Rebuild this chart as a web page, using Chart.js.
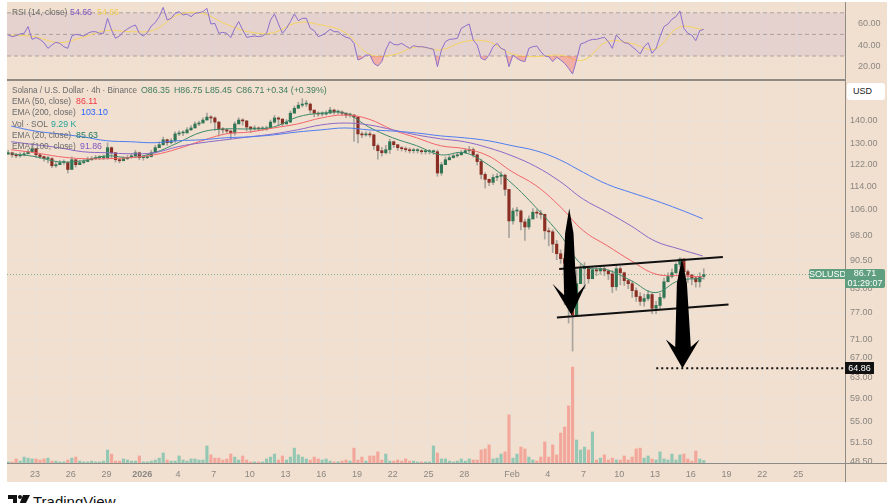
<!DOCTYPE html>
<html>
<head>
<meta charset="utf-8">
<title>SOLUSD 4h</title>
<script src="https://cdn.jsdelivr.net/npm/chart.js@4/dist/chart.umd.min.js"></script>
<style>
    html, body { margin: 0; padding: 0; background: #fff; }
    #page { position: relative; width: 895px; height: 503px; overflow: hidden; background: #fff; font-family: "Liberation Sans", sans-serif; }
    #panel { position: absolute; left: 7px; top: 2px; width: 880px; height: 480px; background: #f1dfcf; }
    canvas { position: absolute; left: 7px; }
    .hline, .vline { position: absolute; background: #8f8a84; }
    .txt { position: absolute; font-size: 8.8px; line-height: 11px; white-space: nowrap; color: #6b6b6b; }
    .ema { font-size: 8.4px; }
    .head { font-size: 8.2px; }
    .tag { position: absolute; text-align: center; color: #fff; font-size: 9px; }
</style>
</head>
<body>
<div id="page">
    <div id="panel"></div>
    <canvas id="rsiChart" width="880" height="77" style="top:2px;width:880px;height:77px"></canvas>
    <canvas id="priceChart" width="880" height="402" style="top:80px;width:880px;height:402px"></canvas>

    <div class="hline" style="left:7px;top:79px;width:838px;height:1.5px"></div>
    <div class="hline" style="left:7px;top:463px;width:880px;height:1px"></div>
    <div class="vline" style="left:845px;top:2px;width:1px;height:480px"></div>

    <div class="txt ema" style="left:12px;top:7px">RSI (14, close)</div>
    <div class="txt" style="left:70px;top:7px;color:#7e57c2">54.66</div>
    <div class="txt" style="left:97px;top:7px;color:#f0cd55">54.66</div>

    <div class="txt head" style="left:12px;top:85px">Solana / U.S. Dollar · 4h · Binance</div>
    <div class="txt" style="left:141px;top:85px;color:#3f7d5f">O86.35</div>
    <div class="txt" style="left:174px;top:85px;color:#3f7d5f">H86.75</div>
    <div class="txt" style="left:205px;top:85px;color:#3f7d5f">L85.45</div>
    <div class="txt" style="left:236px;top:85px;color:#3f7d5f">C86.71</div>
    <div class="txt" style="left:266px;top:85px;color:#3f7d5f">+0.34 (+0.39%)</div>

    <div class="txt ema" style="left:12px;top:96px">EMA (50, close)</div>
    <div class="txt" style="left:76px;top:96px;color:#f23645">86.11</div>
    <div class="txt ema" style="left:12px;top:107px">EMA (200, close)</div>
    <div class="txt" style="left:81px;top:107px;color:#2962ff">103.10</div>
    <div class="txt ema" style="left:12px;top:119px">Vol · SOL</div>
    <div class="txt" style="left:51px;top:119px;color:#26a69a">9.29 K</div>
    <div class="txt ema" style="left:12px;top:130px">EMA (20, close)</div>
    <div class="txt" style="left:76px;top:130px;color:#1f7a63">85.63</div>
    <div class="txt ema" style="left:12px;top:141px">EMA (100, close)</div>
    <div class="txt" style="left:80px;top:141px;color:#7e57c2">91.86</div>

    <div style="position:absolute;left:847px;top:83px;width:38px;height:17px;background:#fff;border-radius:3px"></div>
    <div class="txt" style="left:853px;top:86px;color:#222;font-size:9px">USD</div>

    <div class="tag" style="left:809px;top:269px;width:36px;height:10px;line-height:10px;background:#5f9f80;border-radius:2px 0 0 2px">SOLUSD</div>
    <div class="tag" style="left:845px;top:269px;width:40px;height:19px;line-height:9.5px;background:#5f9f80;border-radius:0 2px 2px 0">86.71<br>01:29:07</div>
    <div class="tag" style="left:845px;top:362px;width:29px;height:12px;line-height:12px;background:#111">64.86</div>

    <svg style="position:absolute;left:8px;top:495px" width="22" height="12" viewBox="0 0 22 12">
        <path d="M0 0h9v10H5V4H0zM15 0h7l-5 10h-6z" fill="#111"/><circle cx="12" cy="2" r="2" fill="#111"/>
    </svg>
    <div style="position:absolute;left:33px;top:493px;font-size:15px;line-height:17px;color:#111">TradingView</div>
</div>

<script>
// x positions are in days since 21 Dec 2025, candles are sampled every 8h
const firstCandleDay = -0.25;
const candleStep = 1 / 3;
const firstOpen = 126;

const closes = [
    126.5,125.7,125.3,125.7,126.1,126.9,128.1,125.7,125,124.2,
    124.2,121.5,121.9,122.7,122.7,120.1,123.8,121.9,122.7,123.1,
    123.8,124.2,124.6,124.6,124.6,128.5,126.5,123.8,123.4,124.2,
    124.6,125.3,126.5,124.6,124.6,125,126.5,128.5,129.7,131.7,
    130.5,131.3,134.1,134.5,134.5,135.8,136.6,138.3,138.7,140,
    141.3,140.9,139.1,136.2,135.8,135.3,134.5,138.3,140,139.6,
    137,136.2,136.6,136.2,136.2,136.6,139.1,140.9,140.4,138.3,
    139.1,143,145.2,146.6,147.1,147.1,144.4,143,142.6,142.6,
    143,144.4,143.5,143.5,143,142.2,142.2,141.3,134.1,133.7,
    134.1,133.7,129.3,127.3,126.5,127.7,130.9,129.7,128.5,128.1,
    127.7,127.3,127.3,127.3,126.9,126.9,126.9,126.9,118.8,121.9,
    123.8,124.6,125.3,125.7,126.5,127.3,127.7,125.7,123.1,118.3,
    116.5,115.4,117.2,117.6,118,112.9,102.4,105.6,105.6,102.1,
    100.5,103,105.2,104.9,104.5,99.3,99,95.3,92.5,91.1,
    89.8,80.5,76.5,84.3,88.3,88.9,85.6,88,87.7,88.3,
    87.7,86.9,83.5,88.3,87.2,85.1,84.3,82.5,81,79.8,
    80.5,81.5,78.1,78.8,80.8,84.8,86.2,87.2,89.5,91,
    87.5,86.6,85.8,84.8,86.2,86.71
];
const highs = [
    127.5,126.8,126.3,126.6,126.9,127.8,130.2,127.5,126.2,125.2,
    125.1,124.6,122.8,123.6,123.8,123.1,124.9,123.8,123.6,124,
    124.8,125,125.5,125.4,125.6,130.4,128.8,126.6,124.2,125,
    125.4,126.2,127.4,126.8,125.4,125.8,127.4,129.4,130.8,132.8,
    132,132.2,135,135.4,135.4,136.8,137.6,139.2,139.6,141,
    143,142,141.4,139.4,136.8,136.4,135.6,139.2,141,140.6,
    139.8,137.2,137.6,137,137.2,137.4,140,142,141.4,140.6,
    140.2,144,146.2,148,149.6,148.8,147.6,144.2,143.6,143.6,
    144,145.6,144.8,144.4,144,143.2,143,142.4,135.4,135,
    135,135,134,130,128.6,129.4,132,131.2,129.6,129,
    128.8,128.4,128.2,128.2,127.8,127.8,127.8,127.6,127.6,122.8,
    124.8,125.6,126.2,126.6,127.4,128.2,129,128.4,126,124,
    119,116.6,118.2,118.6,119.2,118.4,110,106.6,106.8,106,
    103,104,106.4,106,105.8,104.6,100.2,99.6,96.4,93.6,
    92,90.5,82,88,89.6,90,89,88.8,88.8,89.2,
    88.9,88,87.8,89.4,88.9,87.4,85.4,85,83.2,82,
    81.6,82.6,81.8,79.8,81.8,85.8,87.2,88.2,89.9,91.4,
    91.2,88,86.8,86,87.2,88.3
];
const lows = [
    125.8,124.8,124.6,124.8,125.3,126,127.2,124.6,124.2,123.2,
    122.6,120.8,120.9,122,122,118.8,120.4,121,121.9,122.2,
    123,123.5,123.8,123.8,123.8,124,124.6,122.9,122.6,123.4,
    123.8,124.4,124.8,123.8,123.6,124.2,124.8,126.4,128.8,129.4,
    129.4,130,130.6,133.4,133.4,134.5,135.6,136.6,137.6,139,
    140,138.8,135.6,133.2,134.4,134.4,132,133.6,138.6,137.8,
    135.4,134.6,135.6,135.4,135.6,135.6,136.4,138.6,137.6,137.4,
    138.4,139,143.6,145.2,145.8,146,143,141.4,141.6,141.8,
    142.2,143,142.6,142.6,142,141,141.2,131,130.4,132.6,
    133.2,132.8,127.8,124,125.2,126,126.2,128.6,127.4,127.2,
    126.8,126.4,126.4,126.4,126,126,126,125.8,117.6,118,
    122.6,123.6,124.4,124.8,125.6,126.6,126.6,124.8,121.8,116.6,
    113.4,114.2,114.6,116,114.8,110.8,97.2,101.4,104,99.6,
    96.4,99.8,103.8,103.4,103,96.8,94.8,92.8,90.8,89.8,
    79,74.6,68.4,77.6,85.6,83,84.4,86,86.4,86.8,
    86.4,85.4,82,82.6,84,83.8,83,80.8,79.8,78.8,
    78.6,80,76.8,76.8,78,80.4,84.8,85.8,87,88.8,
    85.8,84.6,84,83.4,83.4,85.45
];
// volume in thousands of SOL
const volumes = [
    4,4,15,7,22,18,15,15,11,15,
    18,7,7,4,4,11,18,22,7,4,
    4,7,4,4,7,48,33,7,7,15,
    11,7,7,26,4,4,7,11,18,37,
    11,7,7,26,11,7,15,15,11,11,
    63,30,18,18,11,15,33,22,11,26,
    11,4,4,4,4,15,22,33,11,26,
    11,22,55,30,22,15,11,22,15,11,
    15,7,4,4,7,11,7,55,11,22,
    7,26,26,41,11,33,7,7,11,7,
    15,7,7,4,4,4,4,63,37,15,15,
    7,4,7,15,7,15,11,11,48,52,
    67,15,18,33,41,178,18,33,59,52,
    22,11,7,22,78,22,67,30,111,133,
    211,355,85,48,59,48,115,11,18,30,
    11,18,11,11,26,11,22,52,55,18,
    26,15,11,41,15,11,33,11,30,33,
    15,7,44,15,9.29
];

// EMA and RSI MA curves, sampled every 2 days
const curveDays = [0,2,4,6,8,10,12,14,16,18,20,22,24,26,28,30,32,34,36,38,40,42,44,46,48,50,52,54,56,58];
const ema20 = [126.1,125,123,123.4,125.3,124.6,126.5,130.5,134.9,136.2,136.2,137,141.3,143,143,137,132.5,129.3,125.7,126.5,121.9,115,106.8,98.3,89.1,88,85.1,82,85.1,85.63];
const ema50 = [127.7,126.5,125,124.2,124.2,124.6,125.7,128.1,131.3,134.1,134.9,136.6,138.3,140.9,142.2,140.4,135.8,132.5,129.3,128.1,125.3,119.3,114.3,107.2,99.3,94.8,90.5,86.9,86.4,86.11];
const ema100 = [130.9,129.7,128.5,126.9,126.5,126.1,126.5,128.9,130.5,131.7,132.9,134.1,135.8,137.9,138.7,137.9,135.8,133.7,132.1,130.9,128.5,125.3,121.2,115.8,109.5,105.2,100.8,96.2,93.9,91.86];
const ema200 = [137.4,135.3,134.1,132.9,131.3,130.9,130.5,131.3,131.7,132.5,132.9,133.7,134.9,135.8,136.6,135.8,135.3,134.5,133.3,132.5,131.3,129.3,127.3,123.8,119,114.7,111.8,109.1,106.2,103.1];
const rsiMa = [49.4,47.9,42.3,47.3,53.5,52.5,54.1,68,69.5,59.6,52.2,51.6,60.9,58.7,51.9,31.9,30.9,38.6,35.6,43.3,43.3,31.9,29.4,30.9,26.3,43.3,41.7,36.5,56.5,54.66];

const rsiValues = [
    49.4,47.9,48.8,50.4,51,57.2,45.4,47,45.4,42.3,
    37.1,40.2,42.7,41.7,38.6,37.1,48.5,50.1,49.4,48.5,
    51,52.5,52.5,51,51,64.9,54.1,46.4,48.5,52.5,
    55,57.2,58.7,51,48.5,51.6,57.8,60.9,66.4,75,
    63.3,64.9,69.5,71,68,68.9,66.4,69.5,70.1,71,
    74.1,59.6,60.2,51,51.9,51,47,55.6,61.8,54.1,
    47.3,47.9,48.5,47.9,48.5,51,63.3,68.9,59.6,51,
    55.6,61.8,68.9,62.7,64.9,64.9,55.6,53.5,47.9,49.4,
    51.6,54.7,52.5,52.5,49.4,47.3,46.4,41.7,26.3,27.8,
    30.9,30.9,23.2,20.7,24.8,35.6,43.3,40.8,40.2,41.7,
    39.3,37.1,39.6,38.6,38.6,38,37.1,36.2,20.1,35.6,
    43.3,45.4,45.7,46.4,55.6,57.8,59.6,44.8,40.2,27.8,
    26.3,30.9,38.6,41.7,37.1,35.6,20.1,30.9,27.8,25.7,
    24.8,37.1,38.6,39.3,34,30,29.4,24.8,28.8,26.3,
    23.2,18.6,13.3,26.3,41.1,42.3,44.2,45.4,45.4,46.4,
    47.3,43.3,37.1,49.4,45.4,42.3,41.7,38.6,35.6,31.9,
    38.6,42.3,32.5,37.1,47.9,57.2,59.6,64,66.4,71.7,
    55.6,51,49.4,44.2,53.5,54.66
];
const rsiLevels = [70, 50, 30];

// price drawings from the annotated screenshot, [day, price]
const upperChannel = [[45.96, 88.2], [59.69, 91.6]];
const lowerChannel = [[45.77, 75.9], [60.16, 79.0]];
const arrowLeft = [[46.8,106.4],[47.16,98.6],[47.3,88.8],[47.49,81.7],[48.22,84.3],[46.99,76.5],[45.4,84.3],[46.38,81.3],[46.32,88.8],[46.46,98.6],[46.8,106.4]];
const arrowRight = [[56.25,91.3],[56.67,84.4],[57.0,69.3],[57.73,70.9],[56.3,64.86],[54.91,70.9],[55.69,69.3],[55.83,84.4],[56.25,91.3]];
const targetLine = [[54.1, 64.86], [69.93, 64.86]];
const lastPriceLine = [[-0.35, 86.71], [69.93, 86.71]];

const priceTicks = [140,130,122,114,106,98,90.5,83,77,71,67,63,59,55,51.5,48.5];
const rsiTicks = [60,40,20];
const dayTicks = [2,5,8,11,14,17,20,23,26,29,32,35,38,42,45,48,51,54,57,60,63,66];
const dayLabels = ['23','26','29','2026','4','7','10','13','16','19','22','25','28','Feb','4','7','10','13','16','19','22','25'];

const GRID = '#eae2d9';
const TICK_COL = '#8a8782';
const UP_BODY = '#2f7553', DOWN_BODY = '#8a2d22';
const UP_VOL = '#94c8b4', DOWN_VOL = '#f3a79b';

const xMin = -0.35, xMax = 69.93;

function xyPairs(days, vals) {
    return days.map((d, i) => ({ x: d, y: vals[i] }));
}

function pairsToPoints(pairs) {
    return pairs.map(p => ({ x: p[0], y: p[1] }));
}

function lineSet(data, color, width, yAxisID, order, extra) {
    return Object.assign({
        type: 'line', data: data, borderColor: color, borderWidth: width,
        pointRadius: 0, yAxisID: yAxisID, order: order, fill: false
    }, extra || {});
}

// tick labels must not push the plot area in from the panel edges
function noAutoPadding(s) {
    s.paddingLeft = s.paddingRight = s.paddingTop = s.paddingBottom = 0;
}

function xAxis(showLabels) {
    return {
        type: 'linear', min: xMin, max: xMax, offset: false,
        grid: { color: GRID, lineWidth: 1, drawTicks: false, offset: false },
        border: { display: false },
        afterBuildTicks: s => { s.ticks = dayTicks.map(v => ({ value: v })); },
        afterFit: s => { s.height = showLabels ? 19 : 0; noAutoPadding(s); },
        ticks: {
            display: showLabels, autoSkip: false, maxRotation: 0, padding: 6, color: TICK_COL,
            font: c => ({ family: 'Liberation Sans', size: 9, weight: c.tick && c.tick.value === 11 ? 'bold' : 'normal' }),
            callback: v => dayLabels[dayTicks.indexOf(v)]
        }
    };
}

function drawPriceChart() {
    const days = closes.map((c, i) => firstCandleDay + i * candleStep);
    const opens = closes.map((c, i) => i === 0 ? firstOpen : closes[i - 1]);
    const isUp = closes.map((c, i) => c >= opens[i]);

    const barBase = { type: 'bar', grouped: false, borderWidth: 0 };

    new Chart(document.getElementById('priceChart'), {
        data: {
            datasets: [
                Object.assign({}, barBase, {
                    data: xyPairs(days, volumes), yAxisID: 'yVol', order: 12, barThickness: 2.5,
                    backgroundColor: isUp.map(u => u ? UP_VOL : DOWN_VOL)
                }),
                Object.assign({}, barBase, {
                    data: days.map((d, i) => ({ x: d, y: [lows[i], highs[i]] })), yAxisID: 'yPrice', order: 11, barThickness: 1,
                    backgroundColor: '#a8a49c'
                }),
                Object.assign({}, barBase, {
                    data: days.map((d, i) => ({ x: d, y: [opens[i], closes[i]] })), yAxisID: 'yPrice', order: 6, barThickness: 2.5, minBarLength: 1,
                    backgroundColor: isUp.map(u => u ? UP_BODY : DOWN_BODY)
                }),
                lineSet(xyPairs(curveDays, ema200), '#4f7df0', 1, 'yPrice', 5, { tension: 0.4 }),
                lineSet(xyPairs(curveDays, ema100), '#8b68c8', 1, 'yPrice', 5, { tension: 0.4 }),
                lineSet(xyPairs(curveDays, ema50), '#f2646a', 1, 'yPrice', 5, { tension: 0.4 }),
                lineSet(xyPairs(curveDays, ema20), '#3d8a6c', 1, 'yPrice', 5, { tension: 0.4 }),
                lineSet(pairsToPoints(lastPriceLine), '#7fae8d', 1, 'yPrice', 7, { borderDash: [1, 2] }),
                lineSet(pairsToPoints(upperChannel), '#111', 2, 'yPrice', 2),
                lineSet(pairsToPoints(lowerChannel), '#111', 2, 'yPrice', 2),
                lineSet(pairsToPoints(targetLine), '#111', 2, 'yPrice', 2, { borderDash: [2, 3] }),
                lineSet(pairsToPoints(arrowLeft), '#000', 0, 'yPrice', 1, { fill: 'shape', backgroundColor: '#000', tension: 0 }),
                lineSet(pairsToPoints(arrowRight), '#000', 0, 'yPrice', 1, { fill: 'shape', backgroundColor: '#000', tension: 0 })
            ]
        },
        options: {
            responsive: false, animation: false, devicePixelRatio: 1,
            layout: { padding: 0 },
            plugins: { legend: { display: false }, tooltip: { enabled: false } },
            scales: {
                x: xAxis(true),
                yPrice: {
                    type: 'logarithmic', position: 'right', min: 48.35, max: 158.5,
                    grid: { color: GRID, drawTicks: false },
                    border: { display: false },
                    afterBuildTicks: s => { s.ticks = priceTicks.map(v => ({ value: v })); },
                    afterFit: s => { s.width = 42; noAutoPadding(s); },
                    ticks: {
                        autoSkip: false, padding: 5, color: TICK_COL,
                        font: { family: 'Liberation Sans', size: 9 },
                        callback: v => Number(v).toFixed(2)
                    }
                },
                yVol: { type: 'linear', display: false, min: 0, max: 1417 }
            }
        }
    });
}

function drawRsiChart() {
    const days = closes.map((c, i) => firstCandleDay + i * candleStep);
    const levelLine = lvl => [{ x: xMin, y: lvl }, { x: xMax, y: lvl }];

    new Chart(document.getElementById('rsiChart'), {
        data: {
            datasets: [
                lineSet(levelLine(rsiLevels[0]), 'rgba(0,0,0,0)', 0, 'y', 9, { fill: { value: rsiLevels[2] }, backgroundColor: 'rgba(126,87,194,0.1)' }),
                lineSet(levelLine(rsiLevels[0]), '#a9a39c', 1, 'y', 8, { borderDash: [4, 3] }),
                lineSet(levelLine(rsiLevels[1]), '#a9a39c', 1, 'y', 8, { borderDash: [4, 3] }),
                lineSet(levelLine(rsiLevels[2]), '#a9a39c', 1, 'y', 8, { borderDash: [4, 3] }),
                lineSet(xyPairs(curveDays, rsiMa), '#f5d35f', 1, 'y', 3, { tension: 0.4 }),
                lineSet(xyPairs(days, rsiValues), '#8b6fcb', 1, 'y', 2, {
                    fill: { target: { value: 30 }, above: 'rgba(0,0,0,0)', below: 'rgba(242,80,80,0.33)' }
                })
            ]
        },
        options: {
            responsive: false, animation: false, devicePixelRatio: 1,
            layout: { padding: 0 },
            plugins: { legend: { display: false }, tooltip: { enabled: false } },
            scales: {
                x: xAxis(false),
                y: {
                    type: 'linear', position: 'right', min: 8.7, max: 80,
                    grid: { display: false },
                    border: { display: false },
                    afterBuildTicks: s => { s.ticks = rsiTicks.map(v => ({ value: v })); },
                    afterFit: s => { s.width = 42; noAutoPadding(s); },
                    ticks: {
                        autoSkip: false, padding: 5, color: TICK_COL,
                        font: { family: 'Liberation Sans', size: 9 },
                        callback: v => Number(v).toFixed(2)
                    }
                }
            }
        }
    });
}

drawRsiChart();
drawPriceChart();
</script>
</body>
</html>
